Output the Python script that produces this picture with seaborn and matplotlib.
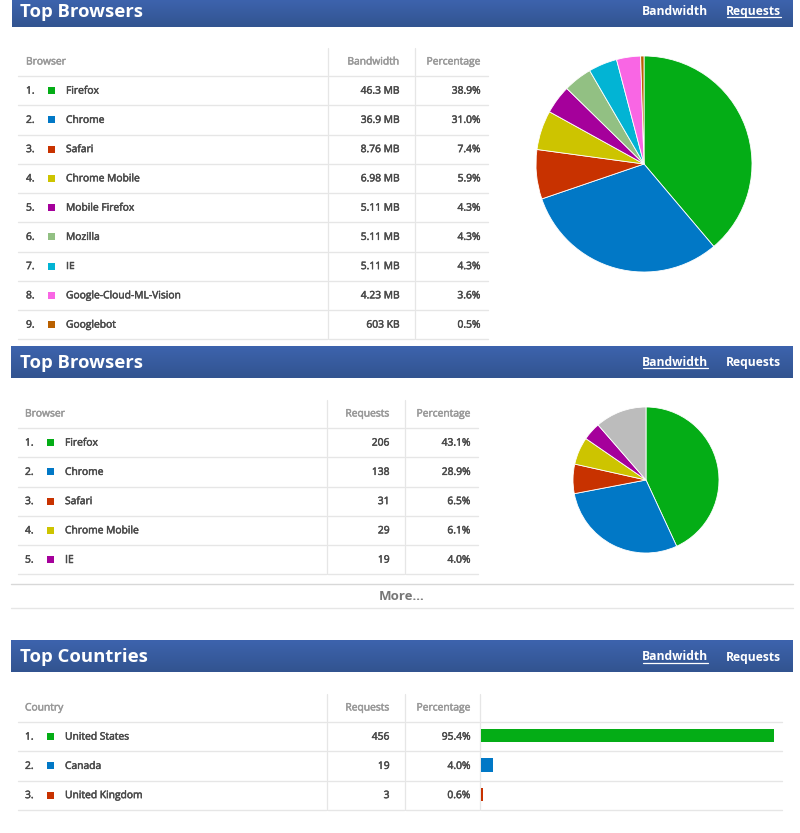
# -*- coding: utf-8 -*-
import numpy as np
import pandas as pd
import matplotlib
matplotlib.use("Agg")
import matplotlib.pyplot as plt
import matplotlib.patheffects as pe
import seaborn as sns

sns.set_theme(style="white")
plt.rcParams['font.family'] = ['Open Sans', 'DejaVu Sans']

# data
colors = ["#04ad16", "#0178c6", "#c83200", "#cdc400", "#a5009b",
          "#92c083", "#02b4d4", "#f966e4", "#b96000"]
other_color = "#bcbcbc"

browsers_bw = ["Firefox", "Chrome", "Safari", "Chrome Mobile", "Mobile Firefox",
               "Mozilla", "IE", "Google-Cloud-ML-Vision", "Googlebot"]
bandwidth = ["46.3 MB", "36.9 MB", "8.76 MB", "6.98 MB", "5.11 MB",
             "5.11 MB", "5.11 MB", "4.23 MB", "603 KB"]
bandwidth_pct = [38.9, 31.0, 7.4, 5.9, 4.3, 4.3, 4.3, 3.6, 0.5]

browsers_req = ["Firefox", "Chrome", "Safari", "Chrome Mobile", "IE"]
browser_requests = ["206", "138", "31", "29", "19"]
browser_req_pct = [43.1, 28.9, 6.5, 6.1, 4.0]
browser_other_pct = 11.4

countries = ["United States", "Canada", "United Kingdom"]
country_requests = ["456", "19", "3"]
country_pct = [95.4, 4.0, 0.6]

W, H = 800, 833
TEXT = "#4a4a4a"
HEAD = "#999999"
LINE = "#e6e6e6"

fig = plt.figure(figsize=(W / 100, H / 100), dpi=100)
bg = fig.add_axes([0, 0, 1, 1])
bg.set_xlim(0, W)
bg.set_ylim(H, 0)
bg.axis("off")


def inset(x0, y0, x1, y1):
    # axes placed with pixel coords, y from the top
    return fig.add_axes([x0 / W, 1 - y1 / H, (x1 - x0) / W, (y1 - y0) / H])


def label(x, y, s, color=TEXT, ha="left"):
    # the thin stroke stands in for the semibold weight of the table text
    t = bg.text(x, y + 0.5, s, color=color, fontsize=7.4, va="center", ha=ha, zorder=3)
    t.set_path_effects([pe.withStroke(linewidth=0.35, foreground=color)])


def header(title, y0, y1, x0, ym, active):
    cmap = matplotlib.colors.LinearSegmentedColormap.from_list("hdr", ["#3d63ad", "#325490"])
    bg.imshow(np.linspace(0, 1, 32).reshape(-1, 1), cmap=cmap, extent=(x0, 793, y1, y0),
              aspect="auto", zorder=1)
    bg.set_xlim(0, W)
    bg.set_ylim(H, 0)
    bg.text(20, ym + 1, title, color="white", fontsize=13.3, fontweight="bold",
            va="center", ha="left", zorder=3)
    for name, xr, xl in [("Bandwidth", 708, 643), ("Requests", 781, 727)]:
        bg.text(xr, ym + 0.5, name, color="white", fontsize=8.7, fontweight="bold",
                va="center", ha="right", zorder=3)
        if name != active:
            bg.plot([xl, xr], [ym + 6, ym + 6], color="white", lw=0.9, zorder=3)


def table(names, col_title, col2_title, col2, pct, x0, x1, seps, y_head, rank_x, val_x, pct_x):
    row_h = 29.25
    y_top = y_head + 28
    n = len(names)
    edges = [x0] + seps + [x1]
    # horizontal rules, broken at the column separators
    for i in range(n + 1):
        y = y_top + i * row_h
        for a, b in zip(edges[:-1], edges[1:]):
            bg.plot([a + 1, b - 1], [y, y], color=LINE, lw=1.0, zorder=1)
    for sx in seps:
        bg.plot([sx, sx], [y_head, y_top + n * row_h], color=LINE, lw=0.9, zorder=1)
    # header row
    yh = y_head + 13.5
    label(rank_x, yh, col_title, HEAD)
    label(val_x, yh, col2_title, HEAD, "right")
    label(pct_x, yh, "Percentage", HEAD, "right")
    for i, name in enumerate(names):
        y = y_top + (i + 0.5) * row_h
        label(rank_x, y, "%d." % (i + 1))
        bg.add_patch(plt.Rectangle((rank_x + 22, y - 3.5), 7, 7, color=colors[i], lw=0, zorder=2))
        label(rank_x + 40, y, name)
        label(val_x, y, col2[i], ha="right")
        label(pct_x, y, "%.1f%%" % pct[i], ha="right")


def pie(values, cols, cx, cy, r):
    ax = inset(cx - r, cy - r, cx + r, cy + r)
    ax.pie(values, colors=cols, startangle=90, counterclock=False, radius=1,
           wedgeprops={"edgecolor": "white", "linewidth": 0.6})
    ax.set_xlim(-1, 1)
    ax.set_ylim(-1, 1)


# first block
header("Top Browsers", 0, 26.5, 12, 11, "Bandwidth")
table(browsers_bw, "Browser", "Bandwidth", bandwidth, bandwidth_pct,
      17, 489, [328, 415], 48, 26, 399.5, 480.5)
pie(bandwidth_pct, colors, 644, 164, 108)

# second block
header("Top Browsers", 346, 378, 11, 362, "Requests")
table(browsers_req, "Browser", "Requests", browser_requests, browser_req_pct,
      17, 479, [327, 405], 400, 25, 389.5, 470.5)
pie(browser_req_pct + [browser_other_pct], colors[:5] + [other_color], 646, 480, 73)

# more link
bg.plot([11, 793], [584, 584], color="#d8d8d8", lw=1.0)
bg.plot([11, 793], [607.5, 607.5], color=LINE, lw=1.0)
bg.text(402, 596, "More...", color="#777777", fontsize=9.5, fontweight="bold", ha="center", va="center")

# third block
header("Top Countries", 640, 672, 11, 656.5, "Requests")
table(countries, "Country", "Requests", country_requests, country_pct,
      17, 783, [327, 405, 480], 694, 25, 389.5, 470.5)

df = pd.DataFrame({"country": countries, "pct": country_pct})
ax_bar = inset(481, 721, 774, 809)
sns.barplot(data=df, y="country", x="pct", hue="country", palette=colors[:3],
            order=countries, hue_order=countries, width=0.45, dodge=False,
            legend=False, ax=ax_bar, saturation=1, linewidth=0)
ax_bar.set_xlim(0, max(country_pct))
ax_bar.axis("off")
ax_bar.patch.set_alpha(0)

fig.savefig("out.png", dpi=100, facecolor="white")
